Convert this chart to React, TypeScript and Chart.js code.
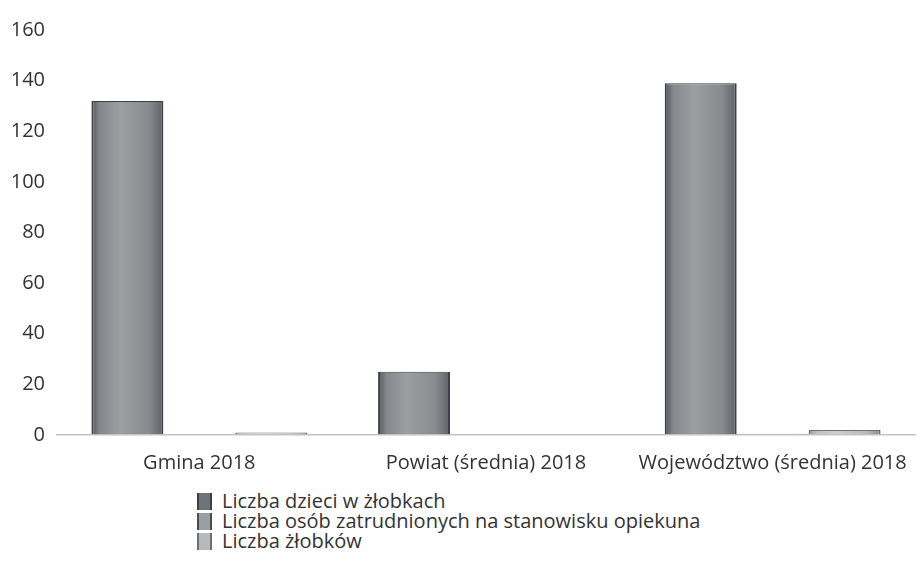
import React, { useEffect, useRef } from "react";
import { Chart, registerables } from "chart.js";

Chart.register(...registerables);

const categories = ["Gmina 2018", "Powiat (średnia) 2018", "Województwo (średnia) 2018"];
const seriesNames = [
  "Liczba dzieci w żłobkach",
  "Liczba osób zatrudnionych na stanowisku opiekuna",
  "Liczba żłobków",
];
const dzieci = [132, 25, 139];
const opiekunowie = [0, 0, 0.5];
const zlobki = [1, 0, 2];
const yMax = 160;
const yStep = 20;

const stops = [
  ["#55595d", "#84888c", "#9c9fa2", "#878b8e", "#5e6165"],
  ["#6a6d70", "#94979a", "#a9abad", "#95989b", "#6f7275"],
  ["#9a9c9f", "#bfc1c3", "#cdcfd1", "#b9bbbd", "#8a8d90"],
];
const edges = ["#3c4044", "#4a4d50", "#6d7073"];
const legendFills = ["#707478", "#9c9fa2", "#b7b9bb"];
const FONT = "'Open Sans', 'DejaVu Sans', sans-serif";
const CAT_PCT = 0.753;

function barFill(c: any) {
  const chart = c.chart;
  const xs = chart.scales && chart.scales.x;
  const s = stops[c.datasetIndex];
  if (!xs || !chart.chartArea || c.dataIndex === undefined) return s[1];
  const n = chart.data.labels.length;
  const nd = chart.data.datasets.length;
  const cat = xs.width / n;
  const w = (cat * CAT_PCT) / nd;
  const center = xs.getPixelForValue(c.dataIndex);
  const x0 = center - (w * nd) / 2 + w * c.datasetIndex;
  if (!isFinite(x0)) return s[1];
  const g = chart.ctx.createLinearGradient(x0, 0, x0 + w, 0);
  g.addColorStop(0, s[0]);
  g.addColorStop(0.12, s[1]);
  g.addColorStop(0.4, s[2]);
  g.addColorStop(0.8, s[3]);
  g.addColorStop(1, s[4]);
  return g;
}

export default function App() {
  const ref = useRef<HTMLCanvasElement | null>(null);
  useEffect(() => {
    document.body.style.margin = "0";
    if (!ref.current) return;
    const values = [dzieci, opiekunowie, zlobki];
    const chart = new Chart(ref.current, {
      type: "bar",
      data: {
        labels: categories,
        datasets: values.map((v, i) => ({
          label: seriesNames[i],
          data: v,
          backgroundColor: barFill,
          borderColor: edges[i],
          borderWidth: { left: 2, right: 2, top: 1, bottom: 0 },
          borderSkipped: false,
          categoryPercentage: CAT_PCT,
          barPercentage: 1,
        })),
      },
      options: {
        animation: false,
        responsive: false,
        maintainAspectRatio: false,
        layout: { padding: { top: 30, right: 3, left: 0, bottom: 0 } },
        plugins: { legend: { display: false }, tooltip: { enabled: false } },
        scales: {
          x: {
            grid: { display: false },
            border: { display: false },
            ticks: { color: "#333", font: { family: FONT, size: 20 }, padding: 8 },
          },
          y: {
            min: 0,
            max: yMax,
            ticks: {
              stepSize: yStep,
              color: "#333",
              font: { family: FONT, size: 20 },
              padding: 11,
            },
            border: { display: false },
            grid: {
              color: (ctx: any) => (ctx.tick && ctx.tick.value === 0 ? "#c4c4c4" : "rgba(0,0,0,0)"),
              lineWidth: 1.5,
              drawTicks: false,
            },
            afterFit: (scale: any) => {
              scale.width = 56;
            },
          },
        },
      },
    });
    chart.update();
    return () => chart.destroy();
  }, []);

  return (
    <div style={{ position: "absolute", left: 0, top: 0, width: 919, height: 563, background: "#fff" }}>
      <canvas ref={ref} width={919} height={483} style={{ display: "block" }} />
      <div
        style={{
          position: "absolute",
          left: 197,
          top: 491,
          fontFamily: FONT,
          fontSize: 20,
          color: "#333",
          lineHeight: "20px",
        }}
      >
        {seriesNames.map((n, i) => (
          <div key={n} style={{ display: "flex", alignItems: "center", height: 20 }}>
            <span
              style={{
                display: "inline-block",
                width: 15,
                height: 17,
                marginRight: 10,
                background: legendFills[i],
                borderLeft: `2px solid ${edges[i]}`,
                borderRight: `2px solid ${edges[i]}`,
                boxSizing: "border-box",
              }}
            />
            {n}
          </div>
        ))}
      </div>
    </div>
  );
}
